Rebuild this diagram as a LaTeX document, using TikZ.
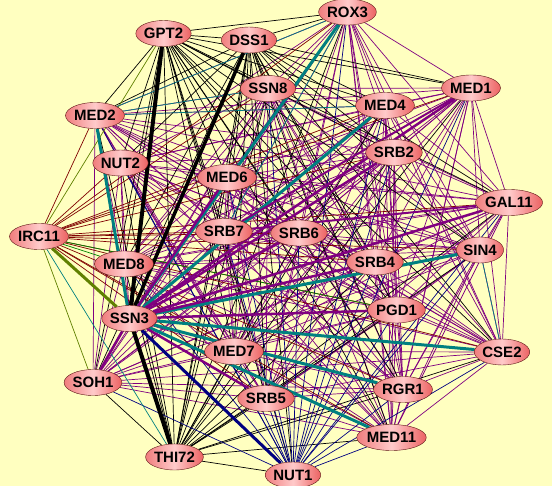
\documentclass[tikz,border=0pt]{standalone}
\usepackage{fontspec}
\setmainfont{Liberation Sans}
\usepackage{tikz}
\usetikzlibrary{shapes.geometric}

\definecolor{bgyellow}{RGB}{255,255,192}
\definecolor{nodeleft}{RGB}{240,125,125}
\definecolor{nodemid}{RGB}{255,202,202}
\definecolor{noderight}{RGB}{236,98,98}
\definecolor{nodeline}{RGB}{90,20,20}
\definecolor{epurple}{RGB}{128,0,128}
\definecolor{eteal}{RGB}{0,128,128}
\definecolor{enavy}{RGB}{0,0,128}
\definecolor{emaroon}{RGB}{128,0,0}
\definecolor{eolive}{RGB}{96,128,0}
\definecolor{egreen}{RGB}{0,128,0}

\pgfdeclarelayer{paper}
\pgfdeclarelayer{edges}
\pgfsetlayers{paper,edges,main}

% mediator subunits joined all to all
\def\core{rox3,ssn8,med4,med1,med2,nut2,srb2,med6,gal11,srb7,srb6,sin4,med8,srb4,ssn3,pgd1,cse2,soh1,med7,rgr1,srb5,med11}

\begin{document}
\begin{tikzpicture}[x=1pt, y=-1pt,
    gene/.style={draw=nodeline, ellipse, inner xsep=0pt, inner ysep=0pt, minimum height=26pt,
      left color=nodeleft, right color=noderight, middle color=nodemid,
      font=\bfseries\fontsize{15}{15}\selectfont},
    pline/.style={epurple, line width=0.7pt},
    bline/.style={black, line width=0.7pt},
    nline/.style={enavy, line width=0.7pt},
    mline/.style={emaroon, line width=0.7pt},
    tline/.style={eteal, line width=0.7pt}]
    \useasboundingbox (0,0) rectangle (552,486);
    \begin{pgfonlayer}{paper}
      \fill[bgyellow] (0,0) rectangle (552,486);
    \end{pgfonlayer}

    % Top row
    \node[gene] (rox3) at (347.5, 12) {ROX3};
    \node[gene] (gpt2) at (163.5, 33.5) {GPT2};
    \node[gene] (dss1) at (249, 40) {DSS1};
    \node[gene] (ssn8) at (268, 88.5) {SSN8};
    \node[gene] (med4) at (385, 105.5) {MED4};
    \node[gene] (med1) at (471, 88) {MED1};
    \node[gene] (med2) at (95, 115.5) {MED2};
    \node[gene] (nut2) at (120.5, 163) {NUT2};
    \node[gene] (srb2) at (394, 152.5) {SRB2};
    \node[gene] (med6) at (227, 177.5) {MED6};
    \node[gene] (gal11) at (509, 202.5) {GAL11};

    % Middle row
    \node[gene] (irc11) at (39, 236.5) {IRC11};
    \node[gene] (srb7) at (224, 231.5) {SRB7};
    \node[gene] (srb6) at (299, 233) {SRB6};
    \node[gene] (sin4) at (480, 250) {SIN4};
    \node[gene] (med8) at (124, 264) {MED8};
    \node[gene] (srb4) at (375, 262) {SRB4};
    \node[gene] (ssn3) at (129.5, 318.5) {SSN3};
    \node[gene] (pgd1) at (396.5, 310) {PGD1};

    % Bottom row
    \node[gene] (cse2) at (502, 352) {CSE2};
    \node[gene] (soh1) at (93, 382.5) {SOH1};
    \node[gene] (med7) at (234, 351.5) {MED7};
    \node[gene] (rgr1) at (403, 389.5) {RGR1};
    \node[gene] (srb5) at (266, 398.5) {SRB5};
    \node[gene] (med11) at (391.5, 437.5) {MED11};
    \node[gene] (thi72) at (174.5, 457) {THI72};
    \node[gene] (nut1) at (293, 475) {NUT1};

    \begin{pgfonlayer}{edges}
      % Purple mesh
      \foreach \a [count=\i] in \core {
        \foreach \b [count=\j] in \core {
          \ifnum\j>\i \draw[pline] (\a) -- (\b); \fi
        }
      }

      % Black hubs
      \foreach \h in {gpt2,dss1,thi72} {
        \foreach \b in \core {\draw[bline] (\h) -- (\b);}
        \draw[bline] (\h) -- (nut1);
      }
      \draw[bline] (gpt2) -- (dss1);
      \draw[bline] (gpt2) -- (thi72);
      \draw[bline] (dss1) -- (thi72);

      % Navy from NUT1
      \foreach \b in \core {\draw[nline] (nut1) -- (\b);}

      % Maroon from IRC11
      \foreach \b in {rox3,ssn8,med4,med1,med2,nut2,srb2,med6,gal11,srb7,srb6,sin4,srb4,pgd1,cse2,med7,rgr1,srb5,med11} {
        \draw[mline] (irc11) -- (\b);
      }
      \draw[egreen, line width=0.7pt] (irc11) -- (med8);
      \draw[egreen, line width=0.7pt] (irc11) -- (pgd1);
      \draw[eolive, line width=0.7pt] (irc11) -- (gpt2);
      \draw[eolive, line width=0.7pt] (irc11) -- (soh1);
      \draw[tline] (irc11) -- (thi72);

      % Thin teal
      \draw[tline] (med2) -- (ssn8);
      \draw[tline] (med2) -- (med4);
      \draw[tline] (med2) -- (rox3);
      \draw[tline] (rox3) -- (srb7);
      \draw[tline] (sin4) -- (cse2);
      \draw[egreen, line width=0.7pt] (ssn3) -- (cse2);

      % Heavy links of SSN3
      \draw[black, line width=4pt] (gpt2) -- (ssn3);
      \draw[black, line width=3.5pt] (dss1) -- (ssn3);
      \draw[black, line width=4pt] (thi72) -- (ssn3);
      \draw[enavy, line width=3pt] (nut1) -- (ssn3);
      \draw[eolive, line width=3pt] (irc11) -- (ssn3);
      \foreach \b in {rox3,med2,med4,sin4,cse2,rgr1,med11} {
        \draw[eteal, line width=3pt] (ssn3) -- (\b);
      }
      \foreach \b in {med1,srb2,gal11,srb4,pgd1,srb5,soh1,med6,srb6} {
        \draw[epurple, line width=2.5pt] (ssn3) -- (\b);
      }
      \draw[epurple, line width=2pt] (med1) -- (srb7);
      \draw[epurple, line width=2pt] (gal11) -- (srb7);
    \end{pgfonlayer}
\end{tikzpicture}
\end{document}
